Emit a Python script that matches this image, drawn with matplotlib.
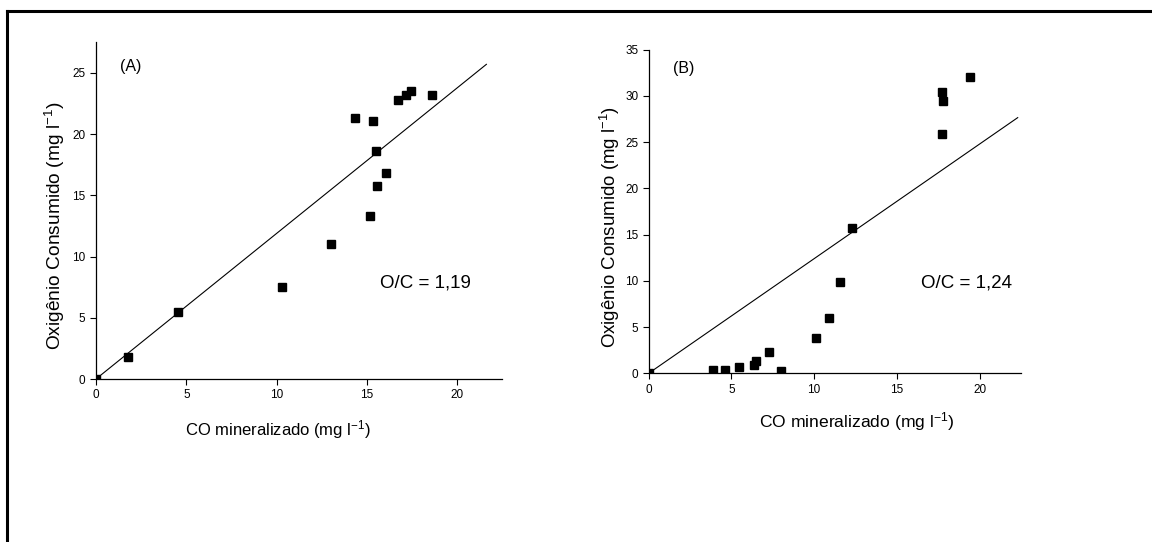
import matplotlib
matplotlib.use("Agg")
import matplotlib.pyplot as plt
from matplotlib.lines import Line2D

plt.rcParams['font.family'] = ['Liberation Sans', 'DejaVu Sans']
plt.rcParams['mathtext.default'] = 'regular'

# Painel A
xA = [0.0, 1.75, 4.55, 10.3, 13.0, 14.35, 15.35, 15.15, 15.5, 15.55, 16.05, 16.7, 17.15, 17.45, 18.6]
yA = [0.0, 1.8, 5.5, 7.5, 11.0, 21.3, 21.1, 13.3, 18.6, 15.8, 16.8, 22.8, 23.2, 23.5, 23.2]
slopeA = 1.19
fitA_x = [0.0, 21.6]

# Painel B
xB = [0.0, 3.9, 4.6, 5.45, 6.35, 6.5, 7.3, 8.0, 10.1, 10.9, 11.55, 12.3, 17.7, 17.7, 17.8, 19.4]
yB = [0.0, 0.35, 0.35, 0.65, 0.85, 1.3, 2.35, 0.25, 3.8, 6.0, 9.85, 15.75, 25.9, 30.4, 29.45, 32.0]
slopeB = 1.24
fitB_x = [0.0, 22.3]

xlabel = "CO mineralizado (mg l$^{-1}$)"
ylabel = "Oxigênio Consumido (mg l$^{-1}$)"

fig = plt.figure(figsize=(11.52, 5.42), dpi=100)
axA = fig.add_axes([0.0833, 0.3007, 0.3524, 0.6223])
axB = fig.add_axes([0.5631, 0.3113, 0.3232, 0.5970])


def style_axes(ax, xmax, ymax, yticks):
    ax.set_xlim(0, xmax)
    ax.set_ylim(0, ymax)
    ax.set_xticks([0, 5, 10, 15, 20])
    ax.set_yticks(yticks)
    ax.spines['top'].set_visible(False)
    ax.spines['right'].set_visible(False)
    ax.spines['left'].set_linewidth(0.9)
    ax.spines['bottom'].set_linewidth(0.9)
    ax.tick_params(direction='out', length=4.5, width=0.8, labelsize=8.5, pad=3)


#---------- (A)
axA.plot(xA, yA, 's', color='black', markersize=5.5)
axA.plot(fitA_x, [slopeA * v for v in fitA_x], '-', color='black', linewidth=0.8)
style_axes(axA, 22.46, 27.55, [0, 5, 10, 15, 20, 25])
axA.text(1.33, 25.5, "(A)", fontsize=11.5, ha='left', va='center')
axA.text(15.7, 7.84, "O/C = 1,19", fontsize=13.5, ha='left', va='center')
axA.set_xlabel(xlabel, fontsize=12, va='center', ha='center')
axA.xaxis.set_label_coords(0.448, -0.151)
axA.set_ylabel(ylabel, fontsize=13.8, va='center', ha='center')
axA.yaxis.set_label_coords(-0.101, 0.454)

#---------- (B)
axB.plot(xB, yB, 's', color='black', markersize=5.5)
axB.plot(fitB_x, [slopeB * v for v in fitB_x], '-', color='black', linewidth=0.8)
style_axes(axB, 22.5, 35, [0, 5, 10, 15, 20, 25, 30, 35])
axB.text(1.47, 33.0, "(B)", fontsize=11.5, ha='left', va='center')
axB.text(16.45, 9.73, "O/C = 1,24", fontsize=13.5, ha='left', va='center')
axB.set_xlabel(xlabel, fontsize=12.6, va='center', ha='center')
axB.xaxis.set_label_coords(0.559, -0.150)
axB.set_ylabel(ylabel, fontsize=13.4, va='center', ha='center')
axB.yaxis.set_label_coords(-0.104, 0.452)

# moldura (cortada na direita e embaixo)
W, H = 1152.0, 542.0
fig.add_artist(Line2D([6.5 / W, 1.0], [1 - 10.5 / H, 1 - 10.5 / H], color='black', linewidth=2.2,
                      transform=fig.transFigure))
fig.add_artist(Line2D([6.5 / W, 6.5 / W], [0.0, 1 - 10.5 / H], color='black', linewidth=2.2,
                      transform=fig.transFigure))

fig.savefig("out.png", dpi=100)
